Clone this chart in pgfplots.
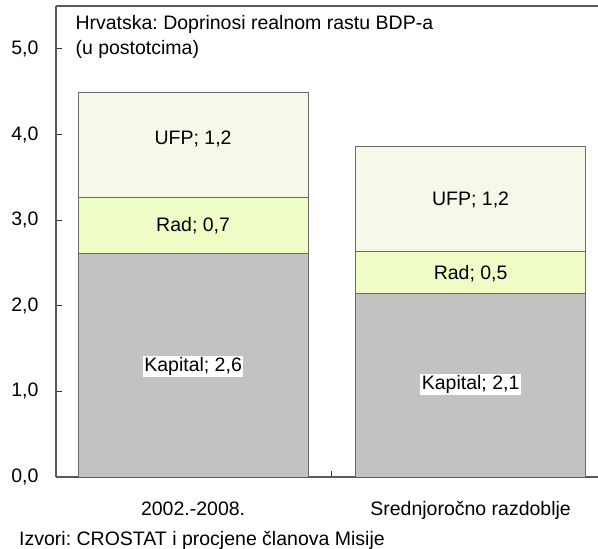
\documentclass[border=0pt]{standalone}
\usepackage{pgfplots}
\pgfplotsset{compat=1.18}
\usepackage{fontspec}
\setmainfont{Liberation Sans}
\frenchspacing
\definecolor{kap}{HTML}{C2C2C2}
\definecolor{rad}{HTML}{EEFCC6}
\definecolor{ufp}{HTML}{F8F8EA}
\definecolor{edge}{HTML}{6A6A6A}
\begin{document}
\begin{tikzpicture}[font=\fontsize{19.5}{23}\selectfont]
\useasboundingbox (0pt,0pt) rectangle (598pt,549pt);
\begin{axis}[
  at={(56pt,72pt)}, anchor=south west,
  scale only axis, width=542pt, height=471pt,
  xmin=-0.494, xmax=1.459, ymin=0, ymax=5.5,
  axis x line=box, axis y line=left,
  xtick pos=lower,
  axis line style={-, line width=1.1pt, draw=black!65},
  ybar stacked, bar width=0.829,
  xtick={0.5}, xticklabels={},
  extra x ticks={0,1},
  extra x tick labels={2002.-2008., Srednjoročno razdoblje},
  extra x tick style={major tick length=0pt, xticklabel style={yshift=-21pt}},
  ytick={0,1,2,3,4,5},
  tick align=inside, major tick length=6pt,
  tick style={draw=black!80, line width=0.8pt},
  yticklabel style={xshift=-14pt},
  /pgf/number format/.cd, fixed, fixed zerofill, precision=1, use comma, assume math mode=true,
]
\addplot[fill=kap, draw=edge, line width=0.9pt] coordinates {(0,2.61) (1,2.14)};
\addplot[fill=rad, draw=edge, line width=0.9pt] coordinates {(0,0.66) (1,0.49)};
\addplot[fill=ufp, draw=edge, line width=0.9pt] coordinates {(0,1.22) (1,1.23)};
\coordinate (k1) at (axis cs:0,1.29);
\coordinate (k2) at (axis cs:1,1.08);
\coordinate (r1) at (axis cs:0,2.93);
\coordinate (r2) at (axis cs:1,2.38);
\coordinate (u1) at (axis cs:0,3.95);
\coordinate (u2) at (axis cs:1,3.24);
\end{axis}
\node[fill=white, inner sep=1.5pt] at (k1) {Kapital; 2,6};
\node[fill=white, inner sep=1.5pt] at (k2) {Kapital; 2,1};
\node at (r1) {Rad; 0,7};
\node at (r2) {Rad; 0,5};
\node at (u1) {UFP; 1,2};
\node at (u2) {UFP; 1,2};
\node[anchor=west] at (72pt,525pt) {Hrvatska: Doprinosi realnom rastu BDP-a};
\node[anchor=west] at (72pt,500pt) {(u postotcima)};
\node[anchor=west, inner sep=0pt] at (19pt,9pt) {Izvori: CROSTAT i procjene članova Misije};
\end{tikzpicture}
\end{document}
